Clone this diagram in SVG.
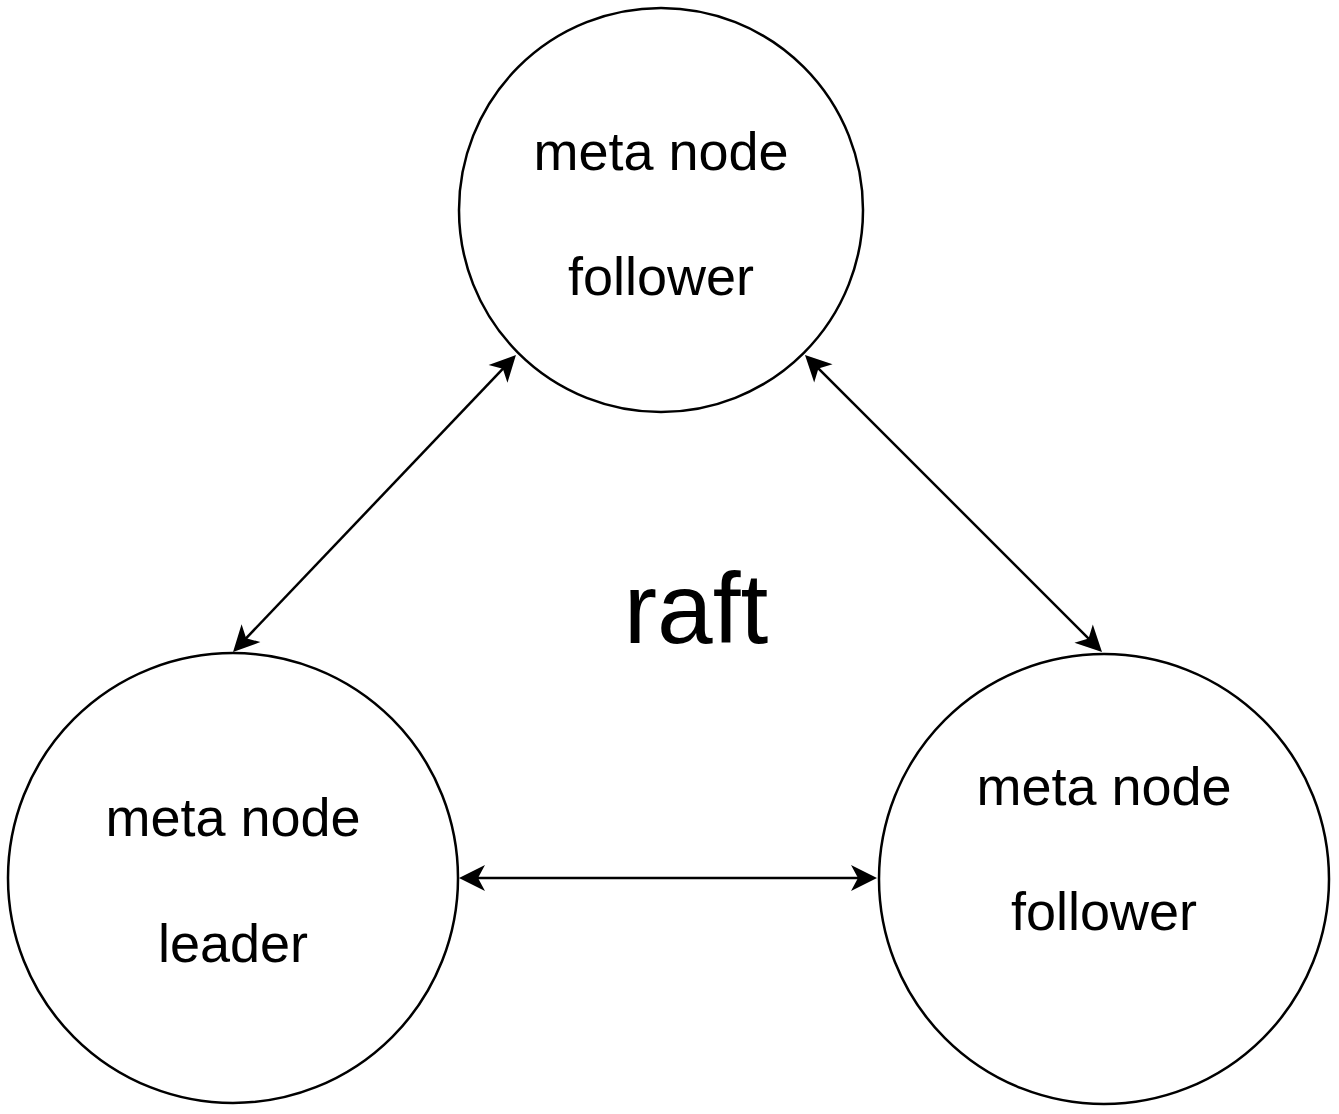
<svg xmlns="http://www.w3.org/2000/svg" width="1339" height="1114" viewBox="0 0 1339 1114">
<style>
.node{fill:#fff;stroke:#000;stroke-width:2.5}
.lbl{font-family:"Liberation Sans",Arial,sans-serif;font-size:54px;fill:#000;text-anchor:middle}
.big{font-family:"Liberation Sans",Arial,sans-serif;font-size:100px;fill:#000;text-anchor:middle}
.edge{stroke:#000;stroke-width:2.5;fill:none;marker-start:url(#arr);marker-end:url(#arr)}
</style>
<defs>
<marker id="arr" markerUnits="userSpaceOnUse" viewBox="-12 -14 28 28" refX="0" refY="0" markerWidth="28" markerHeight="28" orient="auto-start-reverse">
<path d="M15,0 L-11,-13 L-4,0 L-11,13 Z" fill="#000"/>
</marker>
</defs>
<rect width="1339" height="1114" fill="#fff"/>
<g id="node-top">
<circle class="node" cx="661" cy="210" r="202"/>
<text class="lbl" x="661" y="170">meta node</text>
<text class="lbl" x="661" y="295">follower</text>
</g>
<g id="node-leader">
<circle class="node" cx="233" cy="878" r="225"/>
<text class="lbl" x="233" y="836">meta node</text>
<text class="lbl" x="233" y="962">leader</text>
</g>
<g id="node-right">
<circle class="node" cx="1104" cy="879" r="225"/>
<text class="lbl" x="1104" y="805">meta node</text>
<text class="lbl" x="1104" y="930">follower</text>
</g>
<g id="connectors">
<line class="edge" x1="505.6" y1="365.9" x2="243.4" y2="641.1"/>
<line class="edge" x1="474" y1="878" x2="862" y2="878"/>
<line class="edge" x1="815.6" y1="365.6" x2="1091.4" y2="641.4"/>
</g>
<g id="label-raft">
<text class="big" x="696" y="643">raft</text>
</g>
</svg>
